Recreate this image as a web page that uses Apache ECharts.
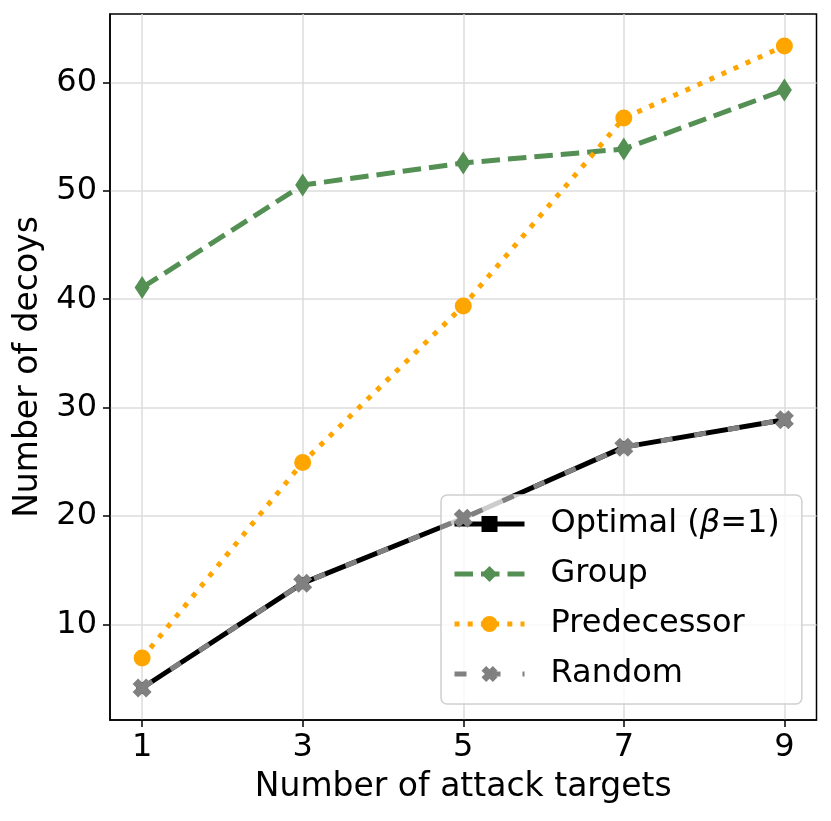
<!DOCTYPE html>
<html>
<head>
<meta charset="utf-8">
<script src="https://cdn.jsdelivr.net/npm/echarts@6/dist/echarts.min.js"></script>
<style>
html, body { margin: 0; padding: 0; background: #fff; }
#chart { width: 831px; height: 821px; }
</style>
</head>
<body>
<div id="chart"></div>
<script>
const xValues = [1, 3, 5, 7, 9];
const optimal = [4.15, 13.82, 19.8, 26.36, 28.88];
const group = [41.07, 50.53, 52.56, 53.85, 59.29];
const predecessor = [6.91, 24.94, 39.38, 56.7, 63.35];
const random = [4.15, 13.82, 19.8, 26.36, 28.88];
const xTicks = [1, 3, 5, 7, 9];
const yTicks = [10, 20, 30, 40, 50, 60];
const seriesNames = ['Optimal (β=1)', 'Group', 'Predecessor', 'Random'];

const pairs = arr => xValues.map((x, i) => [x, arr[i]]);
const FONT = 'DejaVu Sans';
const xPath = 'path://M0,2.9 L2.9,0 L5,2.1 L7.1,0 L10,2.9 L7.9,5 L10,7.1 L7.1,10 L5,7.9 L2.9,10 L0,7.1 L2.1,5 Z';

const chart = echarts.init(document.getElementById('chart'), null, { renderer: 'canvas' });
const option = {
  backgroundColor: '#ffffff',
  animation: false,
  grid: {
    left: 110, right: 14.5, top: 14, bottom: 101,
    show: true, borderColor: '#000', borderWidth: 1.5, backgroundColor: 'transparent'
  },
  xAxis: {
    type: 'value', min: 0.6, max: 9.4,
    name: 'Number of attack targets', nameLocation: 'middle', nameGap: 51,
    nameTextStyle: { fontFamily: FONT, fontSize: 33, color: '#000' },
    axisLine: { show: true, onZero: false, lineStyle: { color: '#000', width: 1.5 } },
    axisTick: { show: true, length: 7, customValues: xTicks, lineStyle: { color: '#000', width: 1.5 } },
    axisLabel: { customValues: xTicks, fontFamily: FONT, fontSize: 32, color: '#000', margin: 12 },
    splitLine: { show: true, lineStyle: { color: '#dcdcdc', width: 1.5 } }
  },
  yAxis: {
    type: 'value', min: 1.2, max: 66.3,
    name: 'Number of decoys', nameLocation: 'middle', nameGap: 64,
    nameTextStyle: { fontFamily: FONT, fontSize: 33, color: '#000' },
    axisLine: { show: true, onZero: false, lineStyle: { color: '#000', width: 1.5 } },
    axisTick: { show: true, length: 7, customValues: yTicks, lineStyle: { color: '#000', width: 1.5 } },
    axisLabel: { customValues: yTicks, fontFamily: FONT, fontSize: 32, color: '#000', margin: 13 },
    splitLine: { show: true, lineStyle: { color: '#dcdcdc', width: 1.5 } }
  },
  legend: {
    orient: 'vertical', left: 441, top: 495,
    data: seriesNames,
    itemWidth: 70, itemHeight: 20, itemGap: 18,
    padding: [13, 22, 14, 11],
    backgroundColor: 'rgba(255,255,255,0.8)',
    borderColor: '#d0d0d0', borderWidth: 1.5, borderRadius: 6,
    lineStyle: { width: 5 },
    formatter: function (name) {
      if (name.indexOf('β') >= 0) return '{a|Optimal (}{b|β}{a|=1)}';
      return '{a|' + name + '}';
    },
    textStyle: {
      fontFamily: FONT, fontSize: 32, color: '#000', lineHeight: 30,
      padding: [0, 0, 0, 21],
      rich: {
        a: { fontFamily: FONT, fontSize: 32, color: '#000', lineHeight: 30 },
        b: { fontFamily: FONT, fontSize: 32, color: '#000', fontStyle: 'italic', lineHeight: 30 }
      }
    }
  },
  series: [
    {
      name: seriesNames[0], type: 'line', data: pairs(optimal), z: 2,
      symbol: 'rect', symbolSize: 12,
      itemStyle: { color: '#000' },
      lineStyle: { color: '#000', width: 5, type: 'solid' }
    },
    {
      name: seriesNames[1], type: 'line', data: pairs(group), z: 3,
      symbol: 'diamond', symbolSize: [15, 23],
      itemStyle: { color: '#548f53' },
      lineStyle: { color: '#548f53', width: 5, type: [18.5, 8] }
    },
    {
      name: seriesNames[2], type: 'line', data: pairs(predecessor), z: 4,
      symbol: 'circle', symbolSize: 17,
      itemStyle: { color: '#ffa500' },
      lineStyle: { color: '#ffa500', width: 5, type: [5, 8.2] }
    },
    {
      name: seriesNames[3], type: 'line', data: pairs(random), z: 5,
      symbol: xPath, symbolSize: 19,
      itemStyle: { color: '#808080' },
      lineStyle: { color: '#808080', width: 5, type: [12, 22] }
    }
  ]
};
chart.setOption(option);
</script>
</body>
</html>
